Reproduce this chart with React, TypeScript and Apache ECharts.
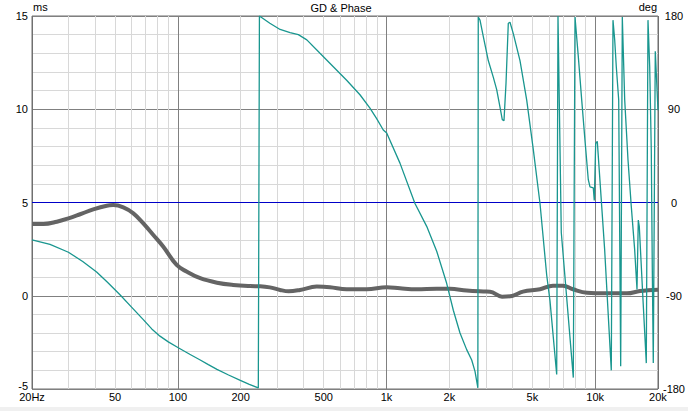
import React, { useEffect, useRef } from "react";
import * as echarts from "echarts";

// Group delay (ms)
const gdFreq = [20, 22.7, 26.3, 29.9, 34, 39.3, 45.6, 49, 54.8, 61.2, 68.3, 76.3, 85.2, 98.7, 110, 128, 154, 184, 222, 248, 276, 309, 340, 385, 463, 536, 644, 804, 1002, 1160, 1395, 1740, 2014, 2422, 2910, 3133, 3577, 3994, 4508, 5441, 6278, 7010, 7828, 9136, 11390, 14204, 16398, 20000];
const gdMs = [3.85, 3.85, 3.97, 4.15, 4.37, 4.63, 4.83, 4.86, 4.74, 4.42, 3.88, 3.26, 2.63, 1.65, 1.3, 0.94, 0.7, 0.58, 0.52, 0.51, 0.45, 0.31, 0.24, 0.31, 0.49, 0.46, 0.35, 0.35, 0.46, 0.4, 0.35, 0.37, 0.37, 0.28, 0.23, 0.22, -0.05, -0.01, 0.22, 0.35, 0.54, 0.54, 0.35, 0.16, 0.13, 0.13, 0.25, 0.32];

// Phase (deg)
const phFreq = [20, 24.4, 29.9, 35, 40.8, 46, 52.8, 60, 68.3, 75, 82.1, 90, 100, 114, 128, 140, 154, 175, 198, 220, 243, 246, 276, 309, 345, 378, 415, 480, 556, 644, 746, 833, 897, 965, 1002, 1160, 1369, 1558, 1740, 1942, 2090, 2250, 2422, 2560, 2655, 2735, 2740, 2752, 2806, 2910, 3074, 3248, 3373, 3498, 3588, 3656, 3738, 3834, 3906, 4052, 4362, 4696, 5052, 5440, 5856, 6074, 6540, 6634, 6880, 7856, 8004, 8300, 8618, 8936, 9268, 9444, 9794, 9902, 10056, 10236, 11106, 11946, 12172, 12402, 12624, 12964, 13252, 13490, 13852, 14366, 14898, 15466, 15864, 16092, 16270, 16950, 17578, 17910, 18250, 18572, 18778, 18988, 19410, 20000];
const phDeg = [-36, -40.5, -48, -57, -67, -77, -89, -101, -113, -122, -129, -134.5, -140, -146.5, -152, -156.5, -161, -166.5, -171.5, -175.5, -179, 180, 173, 167, 164, 162, 157, 144, 131, 118, 104, 91, 81, 70, 67, 38, -1, -23, -47, -78, -104, -126, -142, -152, -163, -178, -179, 179, 176, 160, 137, 121, 109, 92, 80, 79, 115, 173, 174, 163, 137, 99, 51, -1, -70, -95, -166, 180, -29, -169, 179, 141, 99, 60, 22, 15, 14, 2, 57, 59, -46, -162, 176, 157, 131, 99, -158, 179, 99, 41, -4, -46, -84, -17, -23, -94, -155, 176, 131, 51, -62, -155, 146, 89];

// Frequency grid
const minorFreqs = [30, 40, 50, 60, 70, 80, 90, 200, 300, 400, 500, 600, 700, 800, 900, 2000, 3000, 4000, 5000, 6000, 7000, 8000, 9000];
const majorFreqs = [100, 1000, 10000];
const edgeFreqs = [20, 20000];
const labelFreqs = [20, 50, 100, 200, 500, 1000, 2000, 5000, 10000, 20000];
const labelTexts = ["20Hz", "50", "100", "200", "500", "1k", "2k", "5k", "10k", "20k"];

const FONT = "Liberation Sans";

export default function App() {
  const ref = useRef<HTMLDivElement>(null);
  useEffect(() => {
    if (!ref.current) return;
    const chart = echarts.init(ref.current, null, { renderer: "svg" });
    const labelFor = (f: number) => {
      const i = labelFreqs.indexOf(f);
      if (i < 0) return { show: false };
      return {
        show: true,
        position: "start",
        formatter: labelTexts[i],
        color: "#000",
        fontSize: 11,
        fontFamily: FONT,
        distance: 2,
      };
    };
    const vLines: any[] = [];
    minorFreqs.forEach((f) =>
      vLines.push({ xAxis: f, lineStyle: { color: "#d8d8d8", width: 1, type: "solid" }, label: labelFor(f) })
    );
    majorFreqs.forEach((f) =>
      vLines.push({ xAxis: f, lineStyle: { color: "#808080", width: 1, type: "solid" }, label: labelFor(f) })
    );
    edgeFreqs.forEach((f) =>
      vLines.push({ xAxis: f, lineStyle: { color: "#707070", width: 1, type: "solid" }, label: labelFor(f) })
    );
    vLines.push({ yAxis: 5, lineStyle: { color: "#0000c8", width: 1, type: "solid" }, label: { show: false } });

    chart.setOption({
      animation: false,
      backgroundColor: "#ffffff",
      textStyle: { fontFamily: FONT },
      grid: {
        left: 32,
        right: 30,
        top: 16,
        bottom: 22,
        show: true,
        borderColor: "#707070",
        borderWidth: 1,
        backgroundColor: "transparent",
      },
      graphic: [
        { type: "rect", shape: { x: 0, y: 407, width: 688, height: 4 }, style: { fill: "#f0f0f0" }, z: -1 },
        { type: "text", x: 341, y: 2, style: { text: "GD & Phase", fontSize: 11, fontFamily: FONT, fill: "#000", textAlign: "center" } },
        { type: "text", x: 33, y: 1, style: { text: "ms", fontSize: 11, fontFamily: FONT, fill: "#000", textAlign: "left" } },
        { type: "text", x: 657, y: 1, style: { text: "deg", fontSize: 11, fontFamily: FONT, fill: "#000", textAlign: "right" } },
      ],
      xAxis: {
        type: "log",
        logBase: 10,
        min: 20,
        max: 20000,
        axisLine: { show: false },
        axisTick: { show: false },
        axisLabel: { show: false },
        splitLine: { show: false },
      },
      yAxis: [
        {
          type: "value",
          min: -5,
          max: 15,
          interval: 5,
          position: "left",
          axisLine: { show: false },
          axisTick: { show: false },
          axisLabel: {
            color: "#000",
            fontSize: 11,
            fontFamily: FONT,
            margin: 4,
            formatter: (v: number) => (v === -5 ? "{lo|-5}" : String(v)),
            rich: { lo: { fontSize: 11, fontFamily: FONT, color: "#000", padding: [0, 0, 6, 0] } },
          },
          splitLine: { show: true, lineStyle: { color: "#808080", width: 1 } },
          minorTick: { show: false, splitNumber: 5 },
          minorSplitLine: { show: true, lineStyle: { color: "#d8d8d8", width: 1 } },
        },
        {
          type: "value",
          min: -180,
          max: 180,
          interval: 90,
          position: "right",
          axisLine: { show: false },
          axisTick: { show: false },
          axisLabel: { color: "#000", fontSize: 11, fontFamily: FONT, margin: 16, align: "center" },
          splitLine: { show: false },
        },
      ],
      series: [
        {
          name: "GD",
          type: "line",
          xAxisIndex: 0,
          yAxisIndex: 0,
          data: gdFreq.map((f, i) => [f, gdMs[i]]),
          showSymbol: false,
          smooth: 0.4,
          lineStyle: { color: "#646464", width: 4 },
          z: 3,
          markLine: {
            silent: true,
            symbol: ["none", "none"],
            z: 1,
            animation: false,
            data: vLines,
          },
        },
        {
          name: "Phase",
          type: "line",
          xAxisIndex: 0,
          yAxisIndex: 1,
          data: phFreq.map((f, i) => [f, phDeg[i]]),
          showSymbol: false,
          lineStyle: { color: "#19968f", width: 1.3 },
          z: 4,
        },
      ],
    });
    return () => chart.dispose();
  }, []);
  return <div ref={ref} style={{ position: "fixed", left: 0, top: 0, width: 688, height: 411 }} />;
}
